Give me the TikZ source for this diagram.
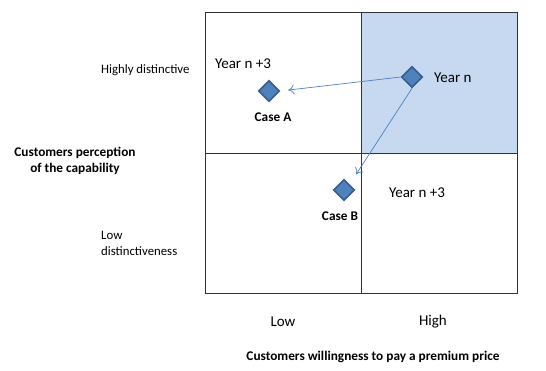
\documentclass[tikz,border=0pt]{standalone}
\usepackage{fontspec}
\setmainfont{Carlito}
\usetikzlibrary{shapes.geometric, arrows.meta}
\definecolor{cellblue}{HTML}{C6D9F1}
\definecolor{markblue}{HTML}{4F81BD}
\definecolor{markedge}{HTML}{385D8A}

\begin{document}
\begin{tikzpicture}[x=1pt, y=-1pt,
  casemark/.style={diamond, draw=markedge, line width=1.6pt, fill=markblue, minimum size=21pt, inner sep=0pt},
  txt/.style={font=\fontsize{15}{17}\selectfont, inner sep=0pt},
  axistxt/.style={font=\fontsize{12.8}{16}\selectfont, inner sep=0pt, align=left},
  boldtxt/.style={font=\fontsize{13.3}{16}\selectfont\bfseries, inner sep=0pt, align=center},
  move/.style={draw=markblue, line width=0.7pt, -{To[length=6pt, width=10pt]}}]
  \useasboundingbox (0,0) rectangle (546,371); % 画像サイズ
  \fill[cellblue] (361,12) rectangle (517,153); % 右上の領域
  \draw[thin, black!80] (205,12) rectangle (517,293); % 外枠
  \draw[thin, black!80] (361,12) -- (361,293); % 縦の区切り
  \draw[thin, black!80] (205,153) -- (517,153); % 横の区切り

  \node[casemark] (yearn) at (412,77) {};
  \node[casemark] (casea) at (269,91) {};
  \node[casemark] (caseb) at (344,190) {};
  \draw[move, shorten >=8pt] (yearn.west) -- (casea.east); % 矢印
  \draw[move, shorten >=12pt] (yearn.south) -- (caseb.north east);

  \node[txt, anchor=west] (lyearn) at (434,78) {Year n};
  \node[txt] (lyeara) at (243,64) {Year n +3};
  \node[txt] (lyearb) at (417,193) {Year n +3};
  \node[boldtxt] (lcasea) at (273,117) {Case A};
  \node[boldtxt] (lcaseb) at (340,216) {Case B};

  \node[axistxt, anchor=west] (lhigh) at (101,70) {Highly distinctive};
  \node[axistxt, anchor=west] (llow) at (101,243) {Low\\distinctiveness};
  \node[boldtxt] (lyaxis) at (75,161) {Customers perception\\of the capability};
  \node[txt] (lxlow) at (283,322) {Low};
  \node[txt] (lxhigh) at (433,322) {High};
  \node[boldtxt] (lxaxis) at (373,357) {Customers willingness to pay a premium price};
\end{tikzpicture}
\end{document}
